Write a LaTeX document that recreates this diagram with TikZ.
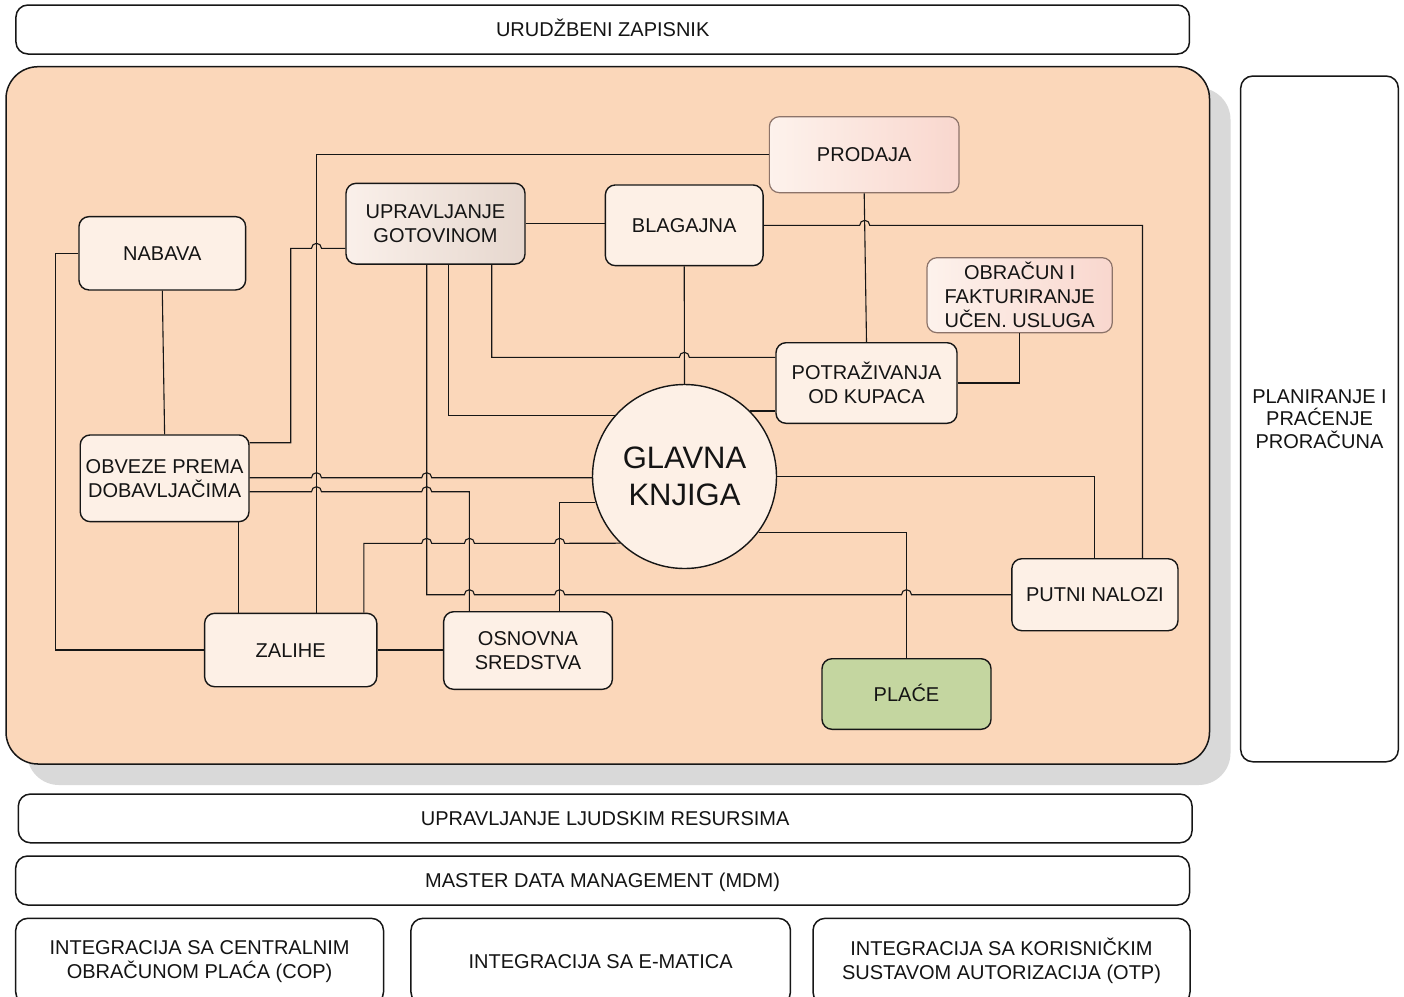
\documentclass[tikz,border=0pt]{standalone}
\usepackage{fontspec}
\setmainfont{Liberation Sans}
\definecolor{panelC}{RGB}{251,215,186}
\definecolor{nodeC}{RGB}{253,240,230}
\definecolor{lineC}{RGB}{22,22,22}
\definecolor{txtC}{RGB}{20,20,20}
\definecolor{uprL}{RGB}{250,240,234}
\definecolor{uprR}{RGB}{230,215,206}
\definecolor{prodL}{RGB}{253,242,236}
\definecolor{prodR}{RGB}{249,215,206}
\definecolor{prodB}{RGB}{140,115,105}
\definecolor{placeC}{RGB}{196,214,160}
\definecolor{shadowC}{RGB}{217,217,217}
\newcommand\boxfont{\fontsize{20}{24}\selectfont}
\newcommand\planfont{\fontsize{20}{22.5}\selectfont}
\newcommand\bigfont{\fontsize{31}{37}\selectfont}
\begin{document}
\begin{tikzpicture}[x=1pt,y=1pt,
  nbox/.style={draw=lineC, line width=1.4pt, rounded corners=10pt, fill=nodeC, align=center, inner sep=0pt, text=txtC, font=\boxfont},
  wbox/.style={draw=lineC, line width=1.5pt, rounded corners=12pt, fill=white, align=center, inner sep=0pt, text=txtC, font=\boxfont},
  pinkbox/.style={nbox, draw=prodB, line width=1.2pt, left color=prodL, right color=prodR},
  oneline/.style={text height=14.3pt, text depth=0pt},
  conn/.style={draw=lineC, line width=1.1pt},
]
\useasboundingbox (0,0) rectangle (1404,-996);

% top bar
\node[wbox, oneline, minimum width=1173.5pt, minimum height=49pt] (uz) at (602.7,-29.5) {URUDŽBENI ZAPISNIK};

% panel with shadow
\fill[shadowC, rounded corners=32pt] (27,-87.7) rectangle (1230.5,-785);
\draw[lineC, line width=1.5pt, fill=panelC, rounded corners=32pt] (6,-66.7) rectangle (1209.5,-764);

% right column
\node[wbox, font=\planfont, minimum width=157.6pt, minimum height=685.7pt] (plan) at (1319.5,-418.9) {PLANIRANJE I\\PRAĆENJE\\PRORAČUNA};

% bottom bars
\node[wbox, oneline, minimum width=1173.7pt, minimum height=48.7pt] (ulr) at (605.2,-818.4) {UPRAVLJANJE LJUDSKIM RESURSIMA};
\node[wbox, oneline, minimum width=1173.8pt, minimum height=49pt] (mdm) at (602.6,-880.5) {MASTER DATA MANAGEMENT (MDM)};
\node[wbox, minimum width=367.8pt, minimum height=85.7pt] (int1) at (199.6,-961.2) {INTEGRACIJA SA CENTRALNIM\\OBRAČUNOM PLAĆA (COP)};
\node[wbox, oneline, minimum width=379.5pt, minimum height=85.7pt] (int2) at (600.7,-961.2) {INTEGRACIJA SA E-MATICA};
\node[wbox, minimum width=377pt, minimum height=85.7pt] (int3) at (1001.5,-961.2) {INTEGRACIJA SA KORISNIČKIM\\SUSTAVOM AUTORIZACIJA (OTP)};

% inner nodes
\node[nbox, oneline, minimum width=166.7pt, minimum height=73.3pt] (nabava) at (162.3,-253.3) {NABAVA};
\node[nbox, left color=uprL, right color=uprR, minimum width=179pt, minimum height=80.7pt] (upr) at (435.5,-223.7) {UPRAVLJANJE\\GOTOVINOM};
\node[nbox, oneline, minimum width=157.7pt, minimum height=80.7pt] (blag) at (684.2,-225.3) {BLAGAJNA};
\node[pinkbox, oneline, minimum width=189.7pt, minimum height=76pt] (prod) at (864.2,-154.7) {PRODAJA};
\node[pinkbox, minimum width=185.3pt, minimum height=75pt] (obr) at (1019.6,-295.2) {OBRAČUN I\\FAKTURIRANJE\\UČEN. USLUGA};
\node[nbox, minimum width=181pt, minimum height=80.6pt] (potr) at (866.5,-383) {POTRAŽIVANJA\\OD KUPACA};
\node[circle, draw=lineC, line width=1.4pt, fill=nodeC, minimum size=184pt, inner sep=0pt, align=center, font=\bigfont, text=txtC] (glavna) at (684.5,-476.5) {GLAVNA\\KNJIGA};
\node[nbox, minimum width=168.8pt, minimum height=86.7pt] (obv) at (164.6,-478.3) {OBVEZE PREMA\\DOBAVLJAČIMA};
\node[nbox, oneline, minimum width=172.2pt, minimum height=73.4pt] (zal) at (290.7,-650) {ZALIHE};
\node[nbox, minimum width=168.7pt, minimum height=77.6pt] (osn) at (528,-650.5) {OSNOVNA\\SREDSTVA};
\node[nbox, oneline, minimum width=166.1pt, minimum height=72pt] (putni) at (1094.9,-594.7) {PUTNI NALOZI};
\node[nbox, oneline, fill=placeC, minimum width=169pt, minimum height=70.6pt] (place) at (906.5,-694) {PLAĆE};

% connectors
\draw[conn] (prod.west) -- (316.5,0 |- prod.west) -- (316.5,0 |- zal.north);
\draw[conn] (upr.west |- 0,-248.3) -- (321.5,-248.3) arc[start angle=0,end angle=180,radius=5pt] -- (290.7,-248.3) -- (290.7,-442.7) -- (obv.east |- 0,-442.7);
\draw[conn] (upr.east) -- (upr.east -| blag.west);
\draw[conn] (blag.east) -- (859.7,0 |- blag.east) arc[start angle=180,end angle=0,radius=5pt] -- (1142.5,0 |- blag.east) -- (1142.5,0 |- putni.north);
\draw[conn] (prod.south) -- (potr.north);
\draw[conn] (obr.south) |- (potr.east);
\draw[conn] (blag.south) -- (glavna.north);
\draw[conn] (491.7,0 |- upr.south) -- (491.7,-357.3) -- (679.3,-357.3) arc[start angle=180,end angle=0,radius=5pt] -- (potr.west |- 0,-357.3);
\draw[conn] (448.3,0 |- upr.south) |- (glavna.139.5);
\draw[conn] (glavna.45.2) -- (potr.west |- glavna.45.2);
\draw[conn] (426.7,0 |- upr.south) -- (426.7,-594.7)
  -- (464.4,-594.7) arc[start angle=180,end angle=0,radius=5pt]
  -- (554.7,-594.7) arc[start angle=180,end angle=0,radius=5pt]
  -- (901.5,-594.7) arc[start angle=180,end angle=0,radius=5pt]
  -- (putni.west |- 0,-594.7);
\draw[conn] (obv.east |- 0,-477.7)
  -- (311.5,-477.7) arc[start angle=180,end angle=0,radius=5pt]
  -- (421.7,-477.7) arc[start angle=180,end angle=0,radius=5pt]
  -- (glavna.west |- 0,-477.7);
\draw[conn] (obv.east |- 0,-491.7)
  -- (311.5,-491.7) arc[start angle=180,end angle=0,radius=5pt]
  -- (421.7,-491.7) arc[start angle=180,end angle=0,radius=5pt]
  -- (469.4,-491.7) -- (469.4,0 |- osn.north);
\draw[conn] (238.6,0 |- obv.south) -- (238.6,0 |- zal.north);
\draw[conn] (nabava.south) -- (obv.north);
\draw[conn] (nabava.west) -- (55.3,0 |- nabava.west) |- (zal.west);
\draw[conn] (zal.east) -- (zal.east -| osn.west);
\draw[conn] (363.8,0 |- zal.north) -- (363.8,-543.3)
  -- (421.7,-543.3) arc[start angle=180,end angle=0,radius=5pt]
  -- (464.4,-543.3) arc[start angle=180,end angle=0,radius=5pt]
  -- (554.7,-543.3) arc[start angle=180,end angle=0,radius=5pt]
  -- (glavna.226.6);
\draw[conn] (559.7,0 |- osn.north) |- (glavna.196.9);
\draw[conn] (glavna.east) -| (putni.north);
\draw[conn] (glavna.323.9) -| (place.north);
\end{tikzpicture}
\end{document}
